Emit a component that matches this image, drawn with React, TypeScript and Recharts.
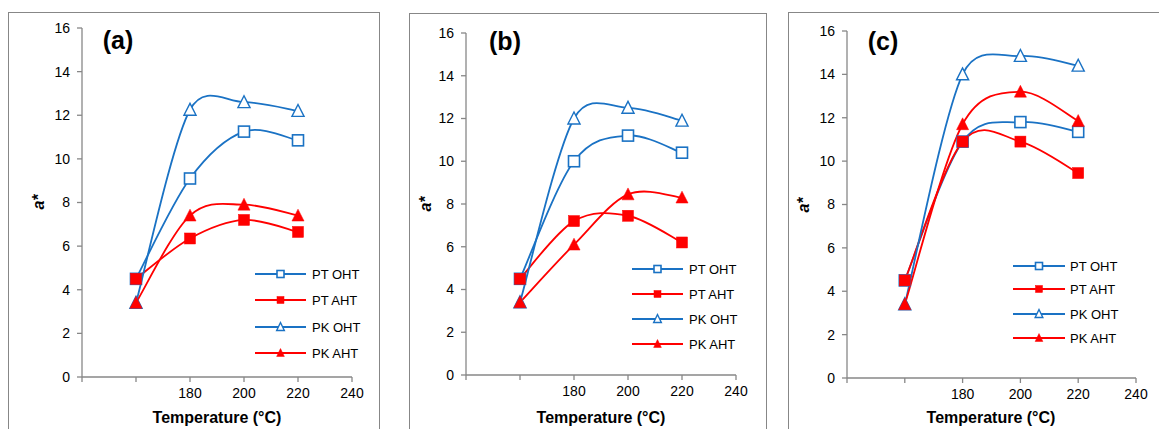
import React from "react";
import { LineChart, Line, XAxis, YAxis } from "recharts";

const TEMPS = [160, 180, 200, 220];
const X_TICKS = [140, 160, 180, 200, 220, 240];
const X_TICK_LABELS = ["", "", "180", "200", "220", "240"];
const Y_TICKS = [0, 2, 4, 6, 8, 10, 12, 14, 16];
const SERIES_NAMES = ["PT OHT", "PT AHT", "PK OHT", "PK AHT"];
const PANEL_TITLES = ["(a)", "(b)", "(c)"];

// Panel (a)
const A_PT_OHT = [4.5, 9.1, 11.25, 10.85];
const A_PT_AHT = [4.5, 6.35, 7.2, 6.65];
const A_PK_OHT = [3.4, 12.25, 12.6, 12.2];
const A_PK_AHT = [3.4, 7.4, 7.9, 7.4];
// Panel (b)
const B_PT_OHT = [4.5, 10.0, 11.2, 10.4];
const B_PT_AHT = [4.5, 7.2, 7.45, 6.2];
const B_PK_OHT = [3.4, 12.0, 12.5, 11.9];
const B_PK_AHT = [3.4, 6.1, 8.45, 8.3];
// Panel (c)
const C_PT_OHT = [4.5, 10.9, 11.8, 11.35];
const C_PT_AHT = [4.5, 10.9, 10.9, 9.45];
const C_PK_OHT = [3.4, 14.0, 14.85, 14.4];
const C_PK_AHT = [3.4, 11.7, 13.2, 11.85];

const BLUE = "#1A72C4";
const RED = "#FF0000";
const GRAY = "#878787";
const FONT = "'Liberation Sans', Arial, sans-serif";
const W = 1159;
const H = 429;
const AXW = 30;

function buildRows(s1: number[], s2: number[], s3: number[], s4: number[]) {
  return TEMPS.map((t, i) => ({ t, s1: s1[i], s2: s2[i], s3: s3[i], s4: s4[i] }));
}

const PANEL_DATA = [
  buildRows(A_PT_OHT, A_PT_AHT, A_PK_OHT, A_PK_AHT),
  buildRows(B_PT_OHT, B_PT_AHT, B_PK_OHT, B_PK_AHT),
  buildRows(C_PT_OHT, C_PT_AHT, C_PK_OHT, C_PK_AHT),
];

const LAYOUT = [
  {
    box: { left: 8, top: 12, right: 380 },
    plot: { x0: 82, x1: 352, y0: 28, y1: 377 },
    legend: { lx0: 255, lx1: 306, tx: 312, rows: [274, 300, 327, 353] },
    title: { x: 118, y: 40 },
    ylab: { x: 38, y: 202 },
    xlab: { x: 217, y: 417 },
  },
  {
    box: { left: 409, top: 13, right: 767 },
    plot: { x0: 466, x1: 736, y0: 33, y1: 375 },
    legend: { lx0: 632, lx1: 683, tx: 689, rows: [269, 294, 319, 344] },
    title: { x: 505, y: 41 },
    ylab: { x: 425, y: 204 },
    xlab: { x: 601, y: 417 },
  },
  {
    box: { left: 788, top: 12, right: 1170 },
    plot: { x0: 847, x1: 1136, y0: 31, y1: 378 },
    legend: { lx0: 1013, lx1: 1065, tx: 1070, rows: [266, 289, 314, 338] },
    title: { x: 883, y: 41 },
    ylab: { x: 803, y: 205 },
    xlab: { x: 991, y: 417 },
  },
];

// Excel-like smoothed line: Catmull-Rom handles, limited relative to segment length
function excelSmooth(context: any) {
  let pts: number[][] = [];
  const cap = (vx: number, vy: number, maxLen: number) => {
    const l = Math.hypot(vx, vy);
    if (l > maxLen && l > 0) {
      const k = maxLen / l;
      return [vx * k, vy * k];
    }
    return [vx, vy];
  };
  return {
    areaStart() {},
    areaEnd() {},
    lineStart() {
      pts = [];
    },
    point(x: number, y: number) {
      pts.push([+x, +y]);
    },
    lineEnd() {
      const n = pts.length;
      if (!n) return;
      context.moveTo(pts[0][0], pts[0][1]);
      for (let i = 0; i < n - 1; i++) {
        const p0 = pts[Math.max(i - 1, 0)];
        const p1 = pts[i];
        const p2 = pts[i + 1];
        const p3 = pts[Math.min(i + 2, n - 1)];
        const seg = Math.hypot(p2[0] - p1[0], p2[1] - p1[1]);
        const maxL = 0.55 * seg;
        const h1 = cap((p2[0] - p0[0]) / 6, (p2[1] - p0[1]) / 6, maxL);
        const h2 = cap((p3[0] - p1[0]) / 6, (p3[1] - p1[1]) / 6, maxL);
        context.bezierCurveTo(p1[0] + h1[0], p1[1] + h1[1], p2[0] - h2[0], p2[1] - h2[1], p2[0], p2[1]);
      }
    },
  };
}

function Marker({ kind, cx, cy, color, filled, size }: any) {
  if (kind === "square") {
    const s = size;
    return (
      <rect
        x={cx - s / 2}
        y={cy - s / 2}
        width={s}
        height={s}
        fill={filled ? color : "#fff"}
        stroke={color}
        strokeWidth={filled ? 0.5 : 1.6}
      />
    );
  }
  const s = size * 1.1;
  const h = s * 0.9;
  const pts = `${cx},${cy - h / 2 - 1} ${cx - s / 2},${cy + h / 2} ${cx + s / 2},${cy + h / 2}`;
  return (
    <polygon
      points={pts}
      fill={filled ? color : "#fff"}
      stroke={color}
      strokeWidth={filled ? 0.5 : 1.4}
      strokeLinejoin="miter"
    />
  );
}

const SERIES_STYLE = [
  { key: "s1", color: BLUE, kind: "square", filled: false },
  { key: "s2", color: RED, kind: "square", filled: true },
  { key: "s3", color: BLUE, kind: "triangle", filled: false },
  { key: "s4", color: RED, kind: "triangle", filled: true },
];

function Panel({ idx }: { idx: number }) {
  const L = LAYOUT[idx];
  const data = PANEL_DATA[idx];
  const margin = {
    left: L.plot.x0 - AXW,
    right: W - L.plot.x1,
    top: L.plot.y0,
    bottom: H - L.plot.y1 - AXW,
  };
  return (
    <>
      <div
        style={{
          position: "absolute",
          left: L.box.left,
          top: L.box.top,
          width: L.box.right - L.box.left,
          height: 500,
          border: `1.5px solid ${GRAY}`,
          boxSizing: "border-box",
        }}
      />
      <div style={{ position: "absolute", left: 0, top: 0 }}>
        <LineChart width={W} height={H} data={data} margin={margin} style={{ overflow: "visible" }}>
          <XAxis
            dataKey="t"
            type="number"
            domain={[140, 240]}
            ticks={X_TICKS}
            tickFormatter={(v: number) => X_TICK_LABELS[X_TICKS.indexOf(v)]}
            height={AXW}
            stroke={GRAY}
            strokeWidth={1.3}
            tickSize={5}
            tickMargin={6}
            tick={{ fill: "#000", fontSize: 14, fontFamily: FONT }}
            interval={0}
            allowDataOverflow
          />
          <YAxis
            type="number"
            domain={[0, 16]}
            ticks={Y_TICKS}
            width={AXW}
            stroke={GRAY}
            strokeWidth={1.3}
            tickSize={5}
            tickMargin={7}
            tick={{ fill: "#000", fontSize: 14, fontFamily: FONT }}
            interval={0}
          />
          {SERIES_STYLE.map((s, si) => (
            <Line
              key={s.key}
              dataKey={s.key}
              name={SERIES_NAMES[si]}
              type={excelSmooth as any}
              stroke={s.color}
              strokeWidth={1.8}
              isAnimationActive={false}
              dot={(p: any) => (
                <Marker
                  key={`d-${s.key}-${p.index}`}
                  kind={s.kind}
                  cx={p.cx}
                  cy={p.cy}
                  color={s.color}
                  filled={s.filled}
                  size={11}
                />
              )}
              activeDot={false}
            />
          ))}
        </LineChart>
      </div>
      <svg
        width={W}
        height={H}
        style={{ position: "absolute", left: 0, top: 0, pointerEvents: "none" }}
      >
        {SERIES_STYLE.map((s, si) => {
          const y = L.legend.rows[si];
          const mx = (L.legend.lx0 + L.legend.lx1) / 2;
          return (
            <g key={si}>
              <line x1={L.legend.lx0} x2={L.legend.lx1} y1={y} y2={y} stroke={s.color} strokeWidth={1.8} />
              <Marker kind={s.kind} cx={mx} cy={y} color={s.color} filled={s.filled} size={7} />
              <text
                x={L.legend.tx}
                y={y}
                dy="0.35em"
                fontSize={13}
                fontFamily={FONT}
                fill="#000"
              >
                {SERIES_NAMES[si]}
              </text>
            </g>
          );
        })}
        <text
          x={L.title.x}
          y={L.title.y}
          dy="0.35em"
          textAnchor="middle"
          fontSize={25}
          fontWeight="bold"
          fontFamily={FONT}
          fill="#000"
        >
          {PANEL_TITLES[idx]}
        </text>
        <text
          x={L.ylab.x}
          y={L.ylab.y}
          textAnchor="middle"
          dy="0.35em"
          fontSize={16}
          fontWeight="bold"
          fontStyle="italic"
          fontFamily={FONT}
          fill="#000"
          transform={`rotate(-90 ${L.ylab.x} ${L.ylab.y})`}
        >
          a*
        </text>
        <text
          x={L.xlab.x}
          y={L.xlab.y}
          textAnchor="middle"
          dy="0.35em"
          fontSize={16}
          fontWeight="bold"
          fontFamily={FONT}
          fill="#000"
        >
          Temperature (°C)
        </text>
      </svg>
    </>
  );
}

export default function App() {
  return (
    <div
      style={{
        position: "absolute",
        left: 0,
        top: 0,
        width: W,
        height: H,
        background: "#fff",
        overflow: "hidden",
      }}
    >
      {[0, 1, 2].map((i) => (
        <Panel key={i} idx={i} />
      ))}
    </div>
  );
}
